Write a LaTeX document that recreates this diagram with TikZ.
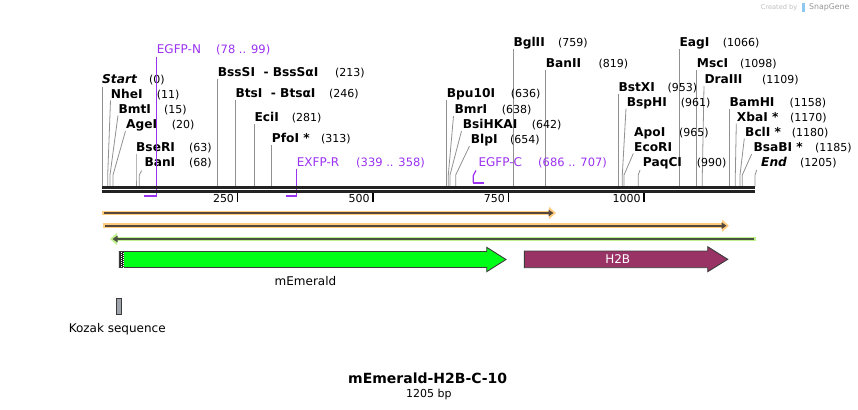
\documentclass[tikz,border=0pt]{standalone}
\usepackage{fontspec}
\setmainfont{DejaVu Sans}
\usetikzlibrary{arrows.meta}
\definecolor{bardark}{RGB}{34,34,34}
\definecolor{sitegray}{RGB}{145,145,145}
\definecolor{primer}{RGB}{155,50,240}
\definecolor{orhalo}{RGB}{255,204,128}
\definecolor{orline}{RGB}{85,72,58}
\definecolor{grhalo}{RGB}{192,240,142}
\definecolor{grline}{RGB}{72,82,62}
\definecolor{femerald}{RGB}{0,255,22}
\definecolor{fh2b}{RGB}{153,51,102}
\definecolor{kozak}{RGB}{160,164,172}
\definecolor{featedge}{RGB}{60,60,60}
\definecolor{credit}{RGB}{190,190,190}
\definecolor{creditdark}{RGB}{150,150,150}
\definecolor{sglogo}{RGB}{140,200,240}
\begin{document}
\begin{tikzpicture}[x=1bp,y=-1bp,
  enz/.style={anchor=base west,inner sep=0pt,font=\fontsize{12.2bp}{14bp}\selectfont\bfseries},
  num/.style={anchor=base west,inner sep=0pt,font=\fontsize{11bp}{13bp}\selectfont},
  site/.style={draw=sitegray,line width=0.8bp},
  plab/.style={anchor=base west,inner sep=0pt,text=primer,font=\fontsize{12bp}{14bp}\selectfont},
  pnum/.style={anchor=base west,inner sep=0pt,text=primer,font=\fontsize{11.5bp}{13bp}\selectfont},
  pline/.style={draw=primer,line width=1.2bp},
  pbar/.style={draw=primer,line width=2bp},
  ticklab/.style={anchor=base east,inner sep=0pt,font=\fontsize{11bp}{13bp}\selectfont},
  feat/.style={draw=featedge,line width=0.9bp},
  flab/.style={anchor=base,inner sep=0pt,font=\fontsize{12bp}{14bp}\selectfont}]
\useasboundingbox[fill=white] (0,0) rectangle (858,409);

% credit
\node[anchor=base west,inner sep=0pt,text=credit,font=\fontsize{6.6bp}{8bp}\selectfont] (cred) at (760.7,9.2) {Created by};
\fill[sglogo] (801.5,2.5) rectangle (805,11.5);
\node[anchor=base west,inner sep=0pt,text=creditdark,font=\fontsize{7.8bp}{9bp}\selectfont] (sg) at (809,9.8) {SnapGene};

% site lines
\foreach \tx/\ty/\kx in {102.5/87/102.5, 110.5/100.5/107.7, 118/115.5/110, 125.5/131/113,
  136/153.5/136, 141.7/170.5/139.3, 217.7/78.5/217.7, 235.5/100/235.5, 254.5/123.5/254.5,
  271.7/145/271.7, 446.7/100/446.7, 453.5/116/448.3, 461.5/131/450, 469.5/146/455.7,
  513.3/48.5/513.3, 545.7/70/545.7, 618.3/93.5/618.3, 626/108.5/622.3, 633.3/153.5/624,
  640/170/638.3, 679.3/49/679.3, 696.7/70/696.7, 704/86/702.3, 729.3/109/729.3,
  736.3/123.5/735.3, 744.3/138.5/740, 751.7/154/742.3, 756.7/170/755}
  {\draw[site] (\tx,\ty) -- (\kx,175) -- (\kx,186.5);}

% site labels
\foreach \n/\lab/\lx/\by/\nx/\num in {
  st/{\itshape Start}/102/83.4/149/(0),
  nhe/NheI/110.7/98.4/156.7/(11),
  bmt/BmtI/118.3/113.4/164/(15),
  age/AgeI/126/128.7/171.7/(20),
  bser/BseRI/136/151.1/189/(63),
  ban/BanI/144.3/166.1/189/(68),
  bss/{BssSI\ \ - BssSαI}/217.7/76.1/335/(213),
  bts/{BtsI\ \ - BtsαI}/235.3/97.7/329/(246),
  eci/EciI/254.3/121.1/291.7/(281),
  pfo/{PfoI *}/271.7/142.7/321/(313),
  bpu/Bpu10I/446.7/97.7/510.7/(636),
  bmr/BmrI/454.3/113.4/501.7/(638),
  bsi/BsiHKAI/462.7/128.4/531.7/(642),
  blp/BlpI/470.7/143.4/510/(654),
  bgl/BglII/513.3/46.1/558/(759),
  banii/BanII/545.7/67.7/598.3/(819),
  bstx/BstXI/618.3/91.1/667.3/(953),
  bsph/BspHI/626.7/106.1/680.7/(961),
  apo/ApoI/634/136.1/679/(965),
  eco/EcoRI/634/151.1/679/{},
  paq/PaqCI/642.7/166.1/696.7/(990),
  eag/EagI/679.3/46.7/722.7/(1066),
  msc/MscI/696.7/67.7/740/(1098),
  dra/DraIII/704.3/83.7/762/(1109),
  bam/BamHI/729.3/106.7/789.3/(1158),
  xba/{XbaI *}/736.7/121.1/790/(1170),
  bcl/{BclI *}/745/136.1/791.7/(1180),
  bsab/{BsaBI *}/753.3/151.7/815/(1185),
  en/{\itshape End}/761/166.1/800/(1205)}
  {\node[enz] (\n) at (\lx,\by) {\lab};
   \node[num] (\n n) at (\nx,\by) {\num};}

% primers
\node[plab] (pN) at (156.7,53.4) {EGFP-N};
\node[pnum] (pNn) at (216,53.4) {(78 .. 99)};
\draw[pline] (156.5,57) -- (156.5,196);
\draw[pbar] (144.3,196) -- (157.1,196);
\node[plab] (pR) at (296.7,166.1) {EXFP-R};
\node[pnum] (pRn) at (356,166.1) {(339 .. 358)};
\draw[pline] (296.7,169) -- (296.7,196);
\draw[pbar] (285.5,196) -- (297.3,196);
\node[plab] (pC) at (478.3,166.1) {EGFP-C};
\node[pnum] (pCn) at (538,166.1) {(686 .. 707)};
\draw[pline] (476,170.5) -- (473.3,175.5) -- (473.3,182.5);
\draw[pbar] (472.6,182.5) -- (484,182.5);

% sequence bar
\coordinate (s0) at (102,187.3);
\coordinate (s1) at (755,187.3);
\draw[bardark,line width=3.3bp] (s0) -- (s1);
\draw[bardark,line width=3bp] (102,191.8) -- (755,191.8);

% ticks
\foreach \tx/\tl in {237.5/250, 373/500, 508.4/750, 644/1000}{
  \draw[black,line width=1.5bp] (\tx,193) -- (\tx,201.5);
  \node[ticklab] at (\tx-3.3,202.3) {\tl};}

% orange / green overlay bars
\draw[orhalo,line width=4.8bp,-{Triangle[length=7bp,width=12bp]}] (102,213) -- (556,213);
\draw[orline,line width=1.7bp,-{Triangle[length=5bp,width=6.5bp]}] (104,213) -- (553.5,213);
\draw[orhalo,line width=4.8bp,-{Triangle[length=7bp,width=12bp]}] (103,225.7) -- (729,225.7);
\draw[orline,line width=1.7bp,-{Triangle[length=5bp,width=6.5bp]}] (105,225.7) -- (726.5,225.7);
\draw[grhalo,line width=4.8bp,-{Triangle[length=7bp,width=12bp]}] (756,239) -- (110,239);
\draw[grline,line width=1.7bp,-{Triangle[length=5bp,width=6.5bp]}] (753.7,239) -- (112.5,239);

% features
\draw[feat,fill=femerald] (119.3,251.5) -- (486.7,251.5) -- (486.7,247.3) -- (506,259.5)
  -- (486.7,271.7) -- (486.7,267.5) -- (119.3,267.5) -- cycle;
\fill[black!85] (119.8,252) rectangle (124.3,267);
\draw[white,line width=0.8bp,dash pattern=on 1bp off 1bp] (121,252) -- (121,267);
\draw[white,line width=0.8bp,dash pattern=on 1bp off 1bp] (123.2,252.5) -- (123.2,267);
\node[flab] (emer) at (305.5,285.5) {mEmerald};

\draw[feat,fill=fh2b] (524.3,251) -- (707.7,251) -- (707.7,246.7) -- (727.7,259.3)
  -- (707.7,271.7) -- (707.7,267.7) -- (524.3,267.7) -- cycle;
\node[flab,text=white] (h2b) at (617.7,263) {H2B};

\draw[fill=kozak,draw=featedge,line width=0.8bp] (116.3,298.3) rectangle (121.5,314.3);
\node[flab] (koz) at (117.2,332) {Kozak sequence};

% title
\node[anchor=base,inner sep=0pt,font=\fontsize{14bp}{16bp}\selectfont\bfseries] (title) at (427.7,383.4) {mEmerald-H2B-C-10};
\node[anchor=base,inner sep=0pt,font=\fontsize{11bp}{13bp}\selectfont] (len) at (428.8,397.3) {1205 bp};
\end{tikzpicture}
\end{document}
